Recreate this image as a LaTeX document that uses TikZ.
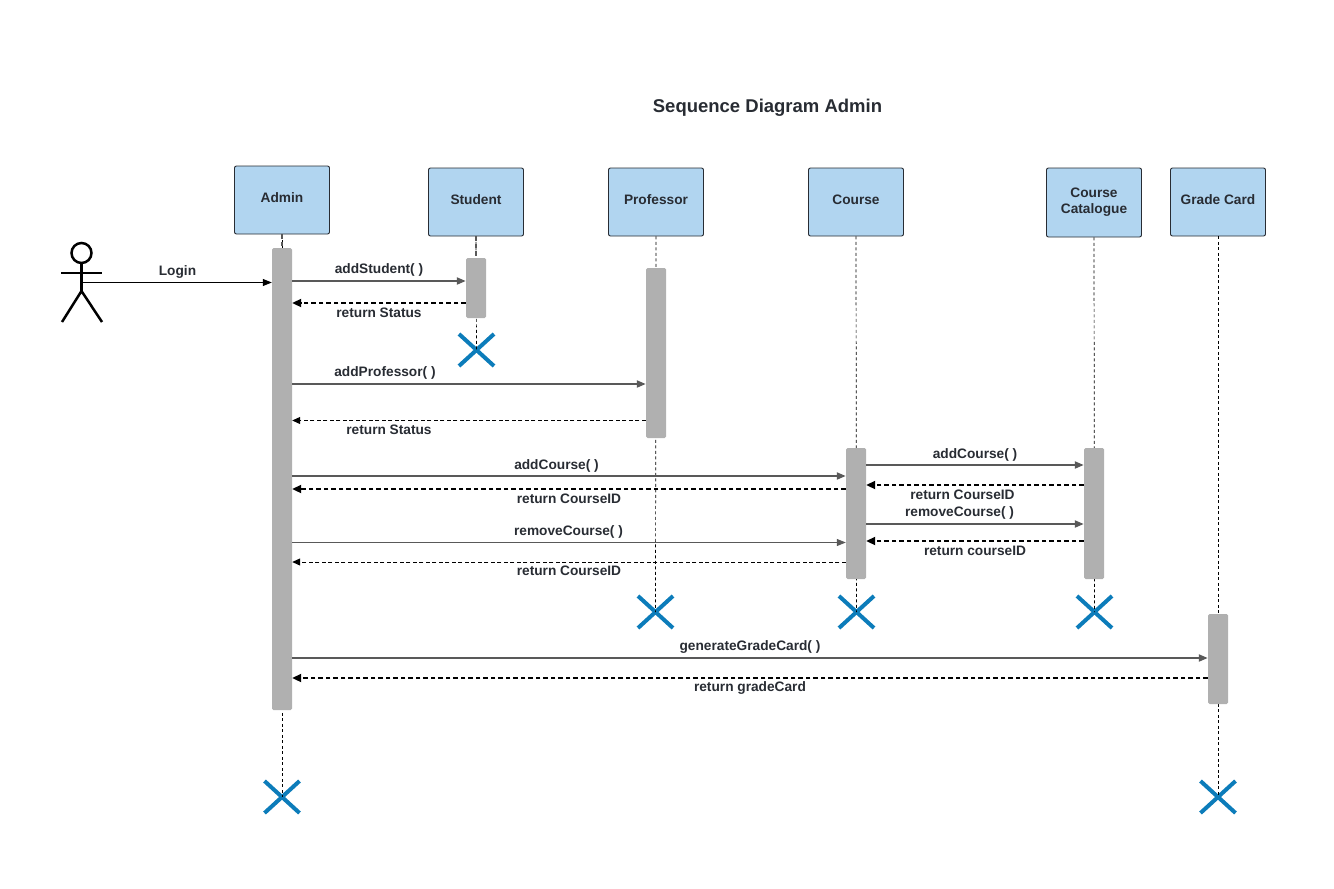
\documentclass[tikz,border=0pt]{standalone}
\usepackage{fontspec}
\setmainfont{Liberation Sans}
\usetikzlibrary{arrows.meta,shapes.misc}
\definecolor{headblue}{HTML}{B1D5F0}
\definecolor{bargray}{HTML}{B0B0B0}
\definecolor{msggray}{HTML}{595959}
\definecolor{crossblue}{HTML}{0C7CBA}
\definecolor{inkdark}{HTML}{282C33}
\tikzset{
  head/.style={draw=inkdark,fill=headblue,rounded corners=2,line width=0.9,minimum width=95,minimum height=68,inner sep=0,text depth=4,align=center,text=inkdark,font=\fontsize{13.7}{16.5}\selectfont\bfseries},
  bar/.style={fill=bargray,rounded corners=1.5,minimum width=20,inner sep=0},
  kill/.style={cross out,draw=crossblue,line width=4,inner sep=0,minimum width=31,minimum height=28},
  life/.style={draw=black,line width=0.7,dash pattern=on 3 off 2.5},
  lifebold/.style={draw=msggray,line width=1.6,dash pattern=on 4.5 off 3},
  call/.style={draw=msggray,line width=2,-{Triangle[length=9,width=7,fill=msggray]}},
  callthin/.style={draw=msggray,line width=1,-{Triangle[length=9,width=7,fill=msggray]}},
  reply/.style={draw=black,line width=2,dash pattern=on 4.5 off 3,-{Triangle[length=9,width=8]}},
  replythin/.style={draw=black,line width=1,dash pattern=on 4 off 2.5,-{Triangle[length=8,width=7]}},
  lbl/.style={text=inkdark,inner sep=0,font=\fontsize{13.7}{15}\selectfont\bfseries},
}
\begin{document}
\begin{tikzpicture}[x=1pt,y=-1pt]
  \useasboundingbox (0,0) rectangle (1334,889);
  \node[inner sep=0,text=inkdark,font=\fontsize{18.5}{22}\selectfont\bfseries] (title) at (767.5,108) {Sequence Diagram Admin};
  % heads
  \node[head] (admin) at (282,200) {Admin};
  \node[head] (student) at (476,202) {Student};
  \node[head] (professor) at (656,202) {Professor};
  \node[head] (course) at (856,202) {Course};
  \node[head,minimum height=69] (catalogue) at (1094,202.5) {Course\\Catalogue};
  \node[head] (grade) at (1218,202) {Grade Card};
  % end marks
  \node[kill] (xadmin) at (282,797) {};
  \node[kill] (xstudent) at (476.5,350) {};
  \node[kill] (xprofessor) at (655.5,612) {};
  \node[kill] (xcourse) at (856.5,612) {};
  \node[kill] (xcatalogue) at (1094.5,612) {};
  \node[kill] (xgrade) at (1218,797) {};
  % lifelines
  \draw[life] (admin.south) -- (xadmin.center);
  \draw[life] (student.south) -- (xstudent.center);
  \draw[life] (professor.south) -- (xprofessor.center);
  \draw[life] (course.south) -- (xcourse.center);
  \draw[life] (catalogue.south) -- (xcatalogue.center);
  \draw[life] (grade.south) -- (xgrade.center);
  \draw[lifebold] (admin.south) -- ++(0,14);
  \draw[lifebold] (student.south) -- ++(0,22);
  % activation bars
  \node[bar,minimum height=462] (baradmin) at (282,479) {};
  \node[bar,minimum height=60] (barstudent) at (476,288) {};
  \node[bar,minimum height=170] (barprofessor) at (656,353) {};
  \node[bar,minimum height=131] (barcourse) at (856,513.5) {};
  \node[bar,minimum height=131] (barcatalogue) at (1094,513.5) {};
  \node[bar,minimum height=90] (bargrade) at (1218,659) {};
  % actor
  \node[circle,draw,line width=2.5,minimum size=20,inner sep=0] (actor) at (81.5,253) {};
  \coordinate (hip) at (81.5,291);
  \draw[line width=2.5] (actor.south) -- (hip);
  \draw[line width=2.5] (61,273) -- (102,273);
  \draw[line width=2.5] (62,322) -- (hip) -- (102,322);
  % messages
  \draw[line width=1,-{Triangle[length=9,width=7]}] (hip |- 0,282.5) -- (baradmin.west |- 0,282.5);
  \draw[call] (baradmin.east |- 0,281) -- (barstudent.west |- 0,281);
  \draw[reply] (barstudent.west |- 0,303) -- (baradmin.east |- 0,303);
  \draw[call] (baradmin.east |- 0,384) -- (barprofessor.west |- 0,384);
  \draw[replythin] (barprofessor.west |- 0,420.5) -- (baradmin.east |- 0,420.5);
  \draw[call] (baradmin.east |- 0,476) -- (barcourse.west |- 0,476);
  \draw[reply] (barcourse.west |- 0,489) -- (baradmin.east |- 0,489);
  \draw[callthin] (baradmin.east |- 0,542.5) -- (barcourse.west |- 0,542.5);
  \draw[replythin] (barcourse.west |- 0,562) -- (baradmin.east |- 0,562);
  \draw[call] (barcourse.east |- 0,465) -- (barcatalogue.west |- 0,465);
  \draw[reply] (barcatalogue.west |- 0,485) -- (barcourse.east |- 0,485);
  \draw[call] (barcourse.east |- 0,524) -- (barcatalogue.west |- 0,524);
  \draw[reply] (barcatalogue.west |- 0,541) -- (barcourse.east |- 0,541);
  \draw[call] (baradmin.east |- 0,658) -- (bargrade.west |- 0,658);
  \draw[reply] (bargrade.west |- 0,678) -- (baradmin.east |- 0,678);
  % labels
  \node[lbl] (llogin) at (177.5,271.5) {Login};
  \node[lbl] (laddstudent) at (379,269.5) {addStudent( )};
  \node[lbl] (lretstudent) at (379,312.5) {return Status};
  \node[lbl] (laddprof) at (385,372.5) {addProfessor( )};
  \node[lbl] (lretprof) at (389,429.5) {return Status};
  \node[lbl] (laddcourse) at (556.5,465.5) {addCourse( )};
  \node[lbl] (lretcourse) at (569,498.5) {return CourseID};
  \node[lbl] (lremcourse) at (568.5,531.5) {removeCourse( )};
  \node[lbl] (lretrem) at (569,570.5) {return CourseID};
  \node[lbl] (laddcat) at (975,454.5) {addCourse( )};
  \node[lbl] (lretcat) at (962.5,494.5) {return CourseID};
  \node[lbl] (lremcat) at (959.5,512.5) {removeCourse( )};
  \node[lbl] (lretremcat) at (975,550.5) {return courseID};
  \node[lbl] (lgen) at (750,646.5) {generateGradeCard( )};
  \node[lbl] (lretgen) at (750,687.5) {return gradeCard};
\end{tikzpicture}
\end{document}
